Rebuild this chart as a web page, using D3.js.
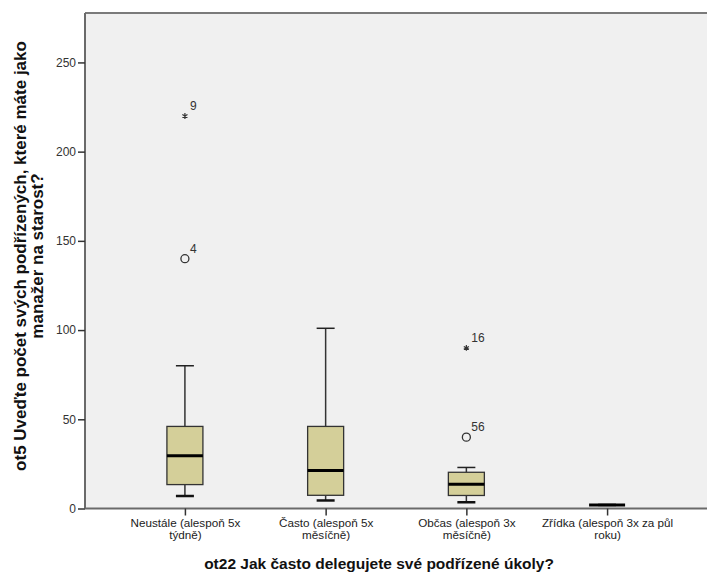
<!DOCTYPE html>
<html>
<head>
<meta charset="utf-8">
<script src="https://cdn.jsdelivr.net/npm/d3@7"></script>
<style>
  body { margin: 0; background: #fff; }
  svg { display: block; font-family: "Liberation Sans", Arial, sans-serif; }
</style>
</head>
<body>
<svg id="chart" width="707" height="577"></svg>
<script>
// categories (x axis) and their two-line tick labels
var categories = ["Neustále", "Často", "Občas", "Zřídka"];
var tickLabels = [
    ["Neustále (alespoň 5x", "týdně)"],
    ["Často (alespoň 5x", "měsíčně)"],
    ["Občas (alespoň 3x", "měsíčně)"],
    ["Zřídka (alespoň 3x za půl", "roku)"]
];

// box plot statistics per category
var whiskerLow  = [7, 4.5, 3.5, 2];
var q1          = [13.4, 7.4, 7.3, 2];
var median      = [29.5, 21.3, 13.6, 2];
var q3          = [46, 46, 20.3, 2];
var whiskerHigh = [80, 101, 23, 2];

// outliers: category index, value, case label, kind
var outCat   = [0, 0, 2, 2];
var outValue = [140, 220, 40, 90];
var outLabel = ["4", "9", "56", "16"];
var outKind  = ["circle", "star", "circle", "star"];

var yTicks = [0, 50, 100, 150, 200, 250];

var svg = d3.select("#chart");

var plotLeft = 85, plotRight = 707, plotTop = 13, plotBottom = 508.5;

var x = d3.scalePoint()
    .domain(categories)
    .range([plotLeft, plotRight])
    .padding(0.71);

var y = d3.scaleLinear()
    .domain([0, 277.7])
    .range([plotBottom, plotTop]);

var boxW = 36, capW = 18;

// plot background
svg.append("rect")
    .attr("x", plotLeft).attr("y", plotTop)
    .attr("width", plotRight - plotLeft).attr("height", plotBottom - plotTop)
    .style("fill", "#f0f0f0");

// frame: top
svg.append("line")
    .attr("x1", plotLeft).attr("x2", plotRight).attr("y1", plotTop).attr("y2", plotTop)
    .style("stroke", "#7a7a7a").style("stroke-width", 2);

// y axis
var yAxis = d3.axisLeft(y).tickValues(yTicks).tickSize(7).tickPadding(2);
var yGroup = svg.append("g")
    .attr("transform", "translate(" + plotLeft + ",0)")
    .call(yAxis);
yGroup.select(".domain")
    .attr("d", "M0," + plotTop + "V" + plotBottom)
    .style("stroke", "#6a6a6a").style("stroke-width", 2);
yGroup.selectAll(".tick line").style("stroke", "#333").style("stroke-width", 1.5);
yGroup.selectAll(".tick text")
    .style("font-size", "12px")
    .style("fill", "#333")
    .style("font-family", "Liberation Sans, Arial, sans-serif");

// x axis
var xAxis = d3.axisBottom(x).tickSize(7).tickFormat("");
var xGroup = svg.append("g")
    .attr("transform", "translate(0," + plotBottom + ")")
    .call(xAxis);
xGroup.select(".domain")
    .attr("d", "M" + plotLeft + ",0H" + plotRight)
    .style("stroke", "#6a6a6a").style("stroke-width", 2);
xGroup.selectAll(".tick line").style("stroke", "#333").style("stroke-width", 1.5);

xGroup.selectAll(".tick")
    .append("text")
    .style("font-size", "11.7px")
    .style("fill", "#222")
    .style("text-anchor", "middle")
    .style("font-family", "Liberation Sans, Arial, sans-serif")
    .each(function(d, i) {
        var t = d3.select(this);
        tickLabels[i].forEach(function(line, j) {
            t.append("tspan")
                .attr("x", 0)
                .attr("y", 18 + j * 12.5)
                .text(line);
        });
    });

// boxes
var boxes = svg.append("g").attr("id", "boxes");
categories.forEach(function(c, i) {
    var cx = x(c);
    var g = boxes.append("g");
    // whiskers
    g.append("line")
        .attr("x1", cx).attr("x2", cx)
        .attr("y1", y(q3[i])).attr("y2", y(whiskerHigh[i]))
        .style("stroke", "#333").style("stroke-width", 1.5);
    g.append("line")
        .attr("x1", cx).attr("x2", cx)
        .attr("y1", y(q1[i])).attr("y2", y(whiskerLow[i]))
        .style("stroke", "#333").style("stroke-width", 1.5);
    g.append("line")
        .attr("x1", cx - capW / 2).attr("x2", cx + capW / 2)
        .attr("y1", y(whiskerHigh[i])).attr("y2", y(whiskerHigh[i]))
        .style("stroke", "#222").style("stroke-width", 1.5);
    g.append("line")
        .attr("x1", cx - capW / 2).attr("x2", cx + capW / 2)
        .attr("y1", y(whiskerLow[i])).attr("y2", y(whiskerLow[i]))
        .style("stroke", "#111").style("stroke-width", 2.5);
    // box
    g.append("rect")
        .attr("x", cx - boxW / 2)
        .attr("y", y(q3[i]))
        .attr("width", boxW)
        .attr("height", y(q1[i]) - y(q3[i]))
        .style("fill", "#d4cf99")
        .style("stroke", "#333")
        .style("stroke-width", 1.3);
    // median
    g.append("line")
        .attr("x1", cx - boxW / 2).attr("x2", cx + boxW / 2)
        .attr("y1", y(median[i])).attr("y2", y(median[i]))
        .style("stroke", "#000").style("stroke-width", 3);
});

// outliers
var outs = svg.append("g").attr("id", "outliers");
outValue.forEach(function(v, i) {
    var cx = x(categories[outCat[i]]);
    var cy = y(v);
    if (outKind[i] === "circle") {
        outs.append("circle")
            .attr("cx", cx).attr("cy", cy).attr("r", 4)
            .style("fill", "none")
            .style("stroke", "#333")
            .style("stroke-width", 1.3);
    } else {
        outs.append("path")
            .attr("transform", "translate(" + cx + "," + cy + ")")
            .attr("d", d3.symbol().type(d3.symbolAsterisk).size(24)())
            .style("fill", "none")
            .style("stroke", "#333")
            .style("stroke-width", 1.2);
    }
    outs.append("text")
        .attr("x", cx + 5)
        .attr("y", cy - 6)
        .style("font-size", "12px")
        .style("fill", "#333")
        .text(outLabel[i]);
});

// axis titles
svg.append("text")
    .attr("x", 379)
    .attr("y", 569)
    .style("font-size", "15.5px")
    .style("font-weight", "bold")
    .style("text-anchor", "middle")
    .style("fill", "#111")
    .text("ot22 Jak často delegujete své podřízené úkoly?");

var yTitle = svg.append("text")
    .attr("transform", "translate(26,256) rotate(-90)")
    .style("font-size", "17px")
    .style("font-weight", "bold")
    .style("text-anchor", "middle")
    .style("fill", "#111");
yTitle.append("tspan").attr("x", 0).attr("y", 0)
    .text("ot5 Uveďte počet svých podřízených, které máte jako");
yTitle.append("tspan").attr("x", 0).attr("y", 17)
    .text("manažer na starost?");
</script>
</body>
</html>
